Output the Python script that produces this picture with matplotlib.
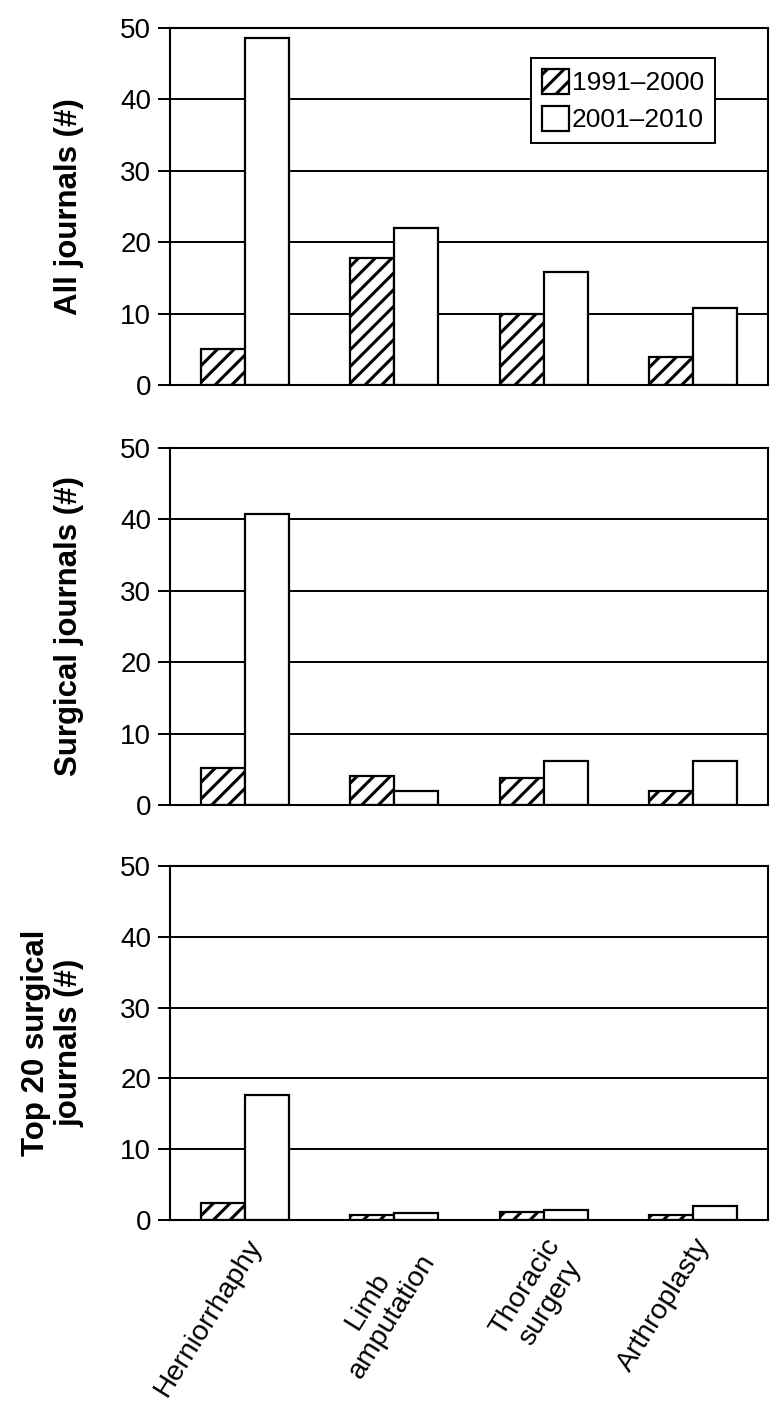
import matplotlib
matplotlib.use('Agg')
import matplotlib.pyplot as plt
import numpy as np

# данные
categories = ['Herniorrhaphy', 'Limb\namputation', 'Thoracic\nsurgery', 'Arthroplasty']
series_names = ['1991\u20132000', '2001\u20132010']

all_91 = [5.0, 17.8, 10.0, 3.9]
all_01 = [48.6, 22.0, 15.8, 10.8]

surg_91 = [5.2, 4.0, 3.8, 2.0]
surg_01 = [40.8, 1.9, 6.1, 6.2]

top_91 = [2.35, 0.7, 1.1, 0.7]
top_01 = [17.6, 0.95, 1.35, 2.0]

ylabels = ['All journals (#)', 'Surgical journals (#)', 'Top 20 surgical\njournals (#)']
yticks = [0, 10, 20, 30, 40, 50]

plt.rcParams['font.family'] = ['Liberation Sans', 'DejaVu Sans']
plt.rcParams['hatch.linewidth'] = 2.2
plt.rcParams['hatch.color'] = 'black'

fig = plt.figure(figsize=(7.81, 14.12), dpi=100)
W, H = 781, 1412
left, right = 170, 768
panels = [(28, 385), (448, 805), (866, 1220)]
data = [(all_91, all_01), (surg_91, surg_01), (top_91, top_01)]

x = np.arange(len(categories))
bw = 0.295

axes = []
for (top, bottom), (a, b), lab in zip(panels, data, ylabels):
    ax = fig.add_axes([left / W, 1 - bottom / H, (right - left) / W, (bottom - top) / H])
    ax.set_axisbelow(True)
    ax.yaxis.grid(True, color='black', linewidth=1.4)
    ax.bar(x - bw / 2, a, bw, facecolor='white', edgecolor='black', linewidth=1.6,
           hatch='//', label=series_names[0])
    ax.bar(x + bw / 2, b, bw, facecolor='white', edgecolor='black', linewidth=1.6,
           label=series_names[1])
    ax.set_xlim(-0.5, len(categories) - 0.5)
    ax.set_ylim(0, 50)
    ax.set_yticks(yticks)
    ax.tick_params(axis='y', direction='out', length=8.5, width=1.4, labelsize=20, pad=5)
    ax.tick_params(axis='x', length=0)
    for s in ax.spines.values():
        s.set_linewidth(1.5)
        s.set_color('black')
    ax.set_ylabel(lab, fontsize=22.5, fontweight='bold', linespacing=1.15)
    ax.yaxis.set_label_coords((84 - left) / (right - left), 0.5)
    ax.set_xticks(x)
    ax.set_xticklabels([])
    axes.append(ax)

axes[-1].set_xticklabels(categories, rotation=58, ha='right', va='top',
                         rotation_mode='anchor', fontsize=20.5,
                         multialignment='center', linespacing=1.15)
axes[-1].tick_params(axis='x', pad=10)

leg = axes[0].legend(loc='upper right', bbox_to_anchor=(0.911, 0.916),
                     fontsize=19, frameon=True, fancybox=False, framealpha=1,
                     edgecolor='black', handlelength=1.05, handleheight=1.1,
                     handletextpad=0.1, labelspacing=0.4, borderpad=0.4,
                     borderaxespad=0)
leg.get_frame().set_linewidth(1.4)

fig.savefig('out.png', dpi=100)
